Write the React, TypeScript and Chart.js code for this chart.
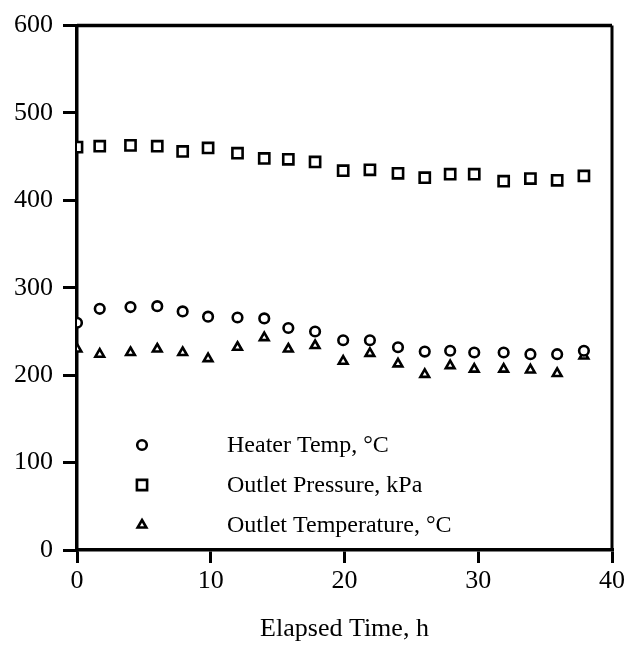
import React, { useEffect, useRef } from "react";
import { Chart, registerables } from "chart.js";

Chart.register(...registerables);

const elapsedHours = [0, 1.7, 4, 6, 7.9, 9.8, 12, 14, 15.8, 17.8, 19.9, 21.9, 24, 26, 27.9, 29.7, 31.9, 33.9, 35.9, 37.9];
const heaterTemp = [260, 276, 278, 279, 273, 267, 266, 265, 254, 250, 240, 240, 232, 227, 228, 226, 226, 224, 224, 228];
const outletPressure = [461, 462, 463, 462, 456, 460, 454, 448, 447, 444, 434, 435, 431, 426, 430, 430, 422, 425, 423, 428];
const outletTemp = [230, 224, 226, 230, 226, 219, 232, 243, 230, 234, 216, 225, 213, 201, 211, 207, 207, 206, 202, 222];

const seriesLabels = ["Heater Temp, \u00B0C", "Outlet Pressure, kPa", "Outlet Temperature, \u00B0C"];
const xTitle = "Elapsed Time, h";
const xMin = 0;
const xMax = 40;
const xStep = 10;
const yMin = 0;
const yMax = 600;
const yStep = 100;

const FONT = "'Liberation Serif', 'Times New Roman', Times, serif";

function drawMarker(ctx: CanvasRenderingContext2D, style: string, x: number, y: number, r: number) {
  ctx.beginPath();
  if (style === "circle") {
    ctx.arc(x, y, r, 0, Math.PI * 2);
  } else if (style === "rect") {
    const s = Math.SQRT1_2 * r;
    ctx.rect(x - s, y - s, 2 * s, 2 * s);
  } else {
    const a = -Math.PI / 2;
    for (let k = 0; k < 3; k++) {
      const ang = a + (k * 2 * Math.PI) / 3;
      const px = x + Math.cos(ang) * r;
      const py = y + Math.sin(ang) * r;
      if (k === 0) ctx.moveTo(px, py);
      else ctx.lineTo(px, py);
    }
    ctx.closePath();
  }
  ctx.fillStyle = "#fff";
  ctx.fill();
  ctx.stroke();
}

const framePlugin = {
  id: "frameLines",
  beforeDatasetsDraw(chart: any) {
    const { ctx, chartArea } = chart;
    ctx.save();
    ctx.strokeStyle = "#000";
    ctx.lineWidth = 3.5;
    ctx.beginPath();
    ctx.moveTo(chartArea.left, chartArea.top);
    ctx.lineTo(chartArea.right, chartArea.top);
    ctx.stroke();
    ctx.lineWidth = 3;
    ctx.beginPath();
    ctx.moveTo(chartArea.right, chartArea.top);
    ctx.lineTo(chartArea.right, chartArea.bottom);
    ctx.stroke();
    ctx.restore();
  },
};

const insideLegend = {
  id: "insideLegend",
  afterDraw(chart: any) {
    const { ctx, chartArea } = chart;
    ctx.save();
    ctx.strokeStyle = "#000";
    ctx.font = `24px ${FONT}`;
    ctx.textBaseline = "middle";
    ctx.textAlign = "left";
    chart.data.datasets.forEach((ds: any, i: number) => {
      const y = chartArea.bottom - 105 + i * 40;
      const mx = chartArea.left + 65;
      ctx.lineWidth = ds.pointBorderWidth;
      drawMarker(ctx, ds.pointStyle, mx, y, ds.pointRadius);
      ctx.fillStyle = "#000";
      ctx.fillText(ds.label, chartArea.left + 150, y + 1);
    });
    ctx.restore();
  },
};

export default function App() {
  const canvasRef = useRef<HTMLCanvasElement | null>(null);

  useEffect(() => {
    if (!canvasRef.current) return;
    const mk = (ys: number[]) => elapsedHours.map((x, i) => ({ x, y: ys[i] }));
    const base = {
      showLine: false,
      borderColor: "#000",
      backgroundColor: "#fff",
      pointBackgroundColor: "#fff",
      pointBorderColor: "#000",
      pointBorderWidth: 2.6,
    };
    const chart = new Chart(canvasRef.current, {
      type: "scatter",
      data: {
        datasets: [
          { ...base, label: seriesLabels[0], data: mk(heaterTemp), pointStyle: "circle", pointRadius: 4.8 },
          { ...base, label: seriesLabels[1], data: mk(outletPressure), pointStyle: "rect", pointRadius: 7.2 },
          { ...base, label: seriesLabels[2], data: mk(outletTemp), pointStyle: "triangle", pointRadius: 5 },
        ],
      },
      options: {
        animation: false,
        responsive: true,
        maintainAspectRatio: false,
        layout: { padding: { top: 14, right: 18, left: 0, bottom: 0 } },
        plugins: {
          legend: { display: false },
          tooltip: { enabled: false },
        },
        scales: {
          x: {
            type: "linear",
            min: xMin,
            max: xMax,
            afterFit: (s: any) => {
              s.height = 97;
            },
            ticks: {
              stepSize: xStep,
              color: "#000",
              padding: 3,
              font: { family: FONT, size: 26 },
              maxRotation: 0,
            },
            grid: {
              drawOnChartArea: false,
              drawTicks: true,
              tickLength: 13,
              tickWidth: 3,
              tickColor: "#000",
              color: "#000",
              lineWidth: 3,
            },
            border: { display: true, color: "#000", width: 3.5 },
            title: {
              display: true,
              text: xTitle,
              color: "#000",
              font: { family: FONT, size: 26 },
              padding: { top: 0, bottom: 2 },
            },
          },
          y: {
            type: "linear",
            min: yMin,
            max: yMax,
            afterFit: (s: any) => {
              s.width = 77;
            },
            ticks: {
              stepSize: yStep,
              color: "#000",
              padding: 10,
              font: { family: FONT, size: 26 },
            },
            grid: {
              drawOnChartArea: false,
              drawTicks: true,
              tickLength: 14,
              tickWidth: 3,
              tickColor: "#000",
              color: "#000",
              lineWidth: 3,
            },
            border: { display: true, color: "#000", width: 3.5 },
          },
        },
      },
      plugins: [framePlugin, insideLegend],
    });
    return () => chart.destroy();
  }, []);

  return (
    <div style={{ position: "absolute", left: 0, top: 0, width: 630, height: 647, background: "#fff" }}>
      <canvas ref={canvasRef} />
    </div>
  );
}
